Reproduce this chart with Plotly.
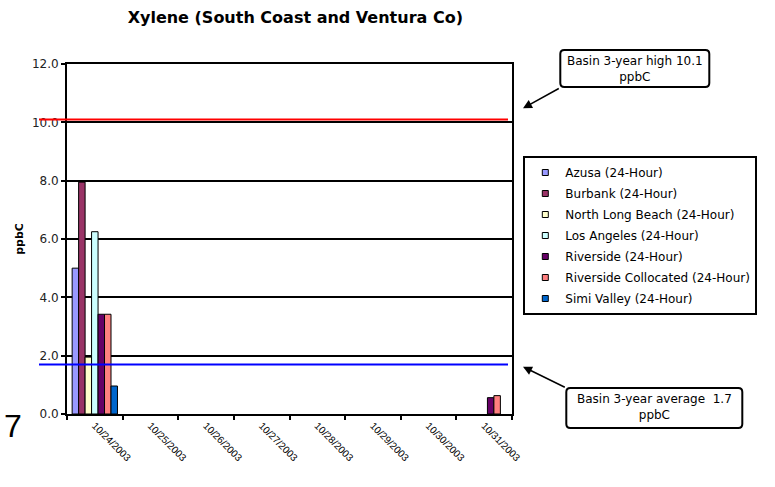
import plotly.graph_objects as go

# Sampling dates (category axis)
dates = ["10/24/2003", "10/25/2003", "10/26/2003", "10/27/2003",
         "10/28/2003", "10/29/2003", "10/30/2003", "10/31/2003"]

# Site names and colours
sites = ["Azusa (24-Hour)", "Burbank (24-Hour)", "North Long Beach (24-Hour)",
         "Los Angeles (24-Hour)", "Riverside (24-Hour)",
         "Riverside Collocated (24-Hour)", "Simi Valley (24-Hour)"]
colors = ["#9999FF", "#993366", "#FFFFCC", "#CCFFFF", "#660066", "#FF8080", "#0066CC"]

# Xylene concentrations, ppbC (None = no sample)
azusa = [5.0, None, None, None, None, None, None, None]
burbank = [7.95, None, None, None, None, None, None, None]
north_long_beach = [1.95, None, None, None, None, None, None, None]
los_angeles = [6.25, None, None, None, None, None, None, None]
riverside = [3.42, None, None, None, None, None, None, 0.56]
riverside_colloc = [3.42, None, None, None, None, None, None, 0.63]
simi_valley = [0.96, None, None, None, None, None, None, None]
series = [azusa, burbank, north_long_beach, los_angeles,
          riverside, riverside_colloc, simi_valley]

# Reference levels
basin_high = 10.1
basin_avg = 1.7

# Figure geometry (pixels)
FW, FH = 775, 487
L, R, T, B = 66.7, 511.7, 64.0, 414.0
PW, PH = R - L, B - T


def px(xp):
    return (xp - L) / PW


def py(yp):
    return (B - yp) / PH


def rounded_box(x0, y0, x1, y1, r=4):
    pts = [
        ("M", [(x0 + r, y0)]),
        ("L", [(x1 - r, y0)]),
        ("Q", [(x1, y0), (x1, y0 + r)]),
        ("L", [(x1, y1 - r)]),
        ("Q", [(x1, y1), (x1 - r, y1)]),
        ("L", [(x0 + r, y1)]),
        ("Q", [(x0, y1), (x0, y1 - r)]),
        ("L", [(x0, y0 + r)]),
        ("Q", [(x0, y0), (x0 + r, y0)]),
    ]
    s = ""
    for cmd, coords in pts:
        s += cmd + " ".join(f"{px(a):.5f},{py(b):.5f}" for a, b in coords) + " "
    return s + "Z"


FONT = "DejaVu Sans, Verdana, sans-serif"

fig = go.Figure()

for name, vals, col in zip(sites, series, colors):
    fig.add_trace(go.Bar(
        x=dates, y=vals, name=name, showlegend=False,
        marker=dict(color=col, line=dict(color="black", width=1)),
    ))

# Legend entries with small square keys
for i, (name, col) in enumerate(zip(sites, colors)):
    fig.add_trace(go.Scatter(
        x=[None], y=[None], mode="markers", name=name, legendgroup=f"g{i}",
        marker=dict(symbol="square", size=6, color=col,
                    line=dict(color="black", width=1)),
    ))

shapes = [
    dict(type="line", xref="paper", yref="y", x0=px(38.7), x1=px(507.7),
         y0=basin_high, y1=basin_high, line=dict(color="#FF0000", width=2)),
    dict(type="line", xref="paper", yref="y", x0=px(38.7), x1=px(507.7),
         y0=basin_avg, y1=basin_avg, line=dict(color="#0000FF", width=2)),
    dict(type="path", xref="paper", yref="paper",
         path=rounded_box(560, 50, 709, 87), line=dict(color="black", width=2),
         fillcolor="white"),
    dict(type="path", xref="paper", yref="paper",
         path=rounded_box(566, 388, 742, 428), line=dict(color="black", width=2),
         fillcolor="white"),
]

annotations = [
    dict(xref="paper", yref="paper", x=px(634.5), y=py(68.5),
         xanchor="center", yanchor="middle",
         text=f"Basin 3-year high {basin_high}<br>ppbC", showarrow=False,
         font=dict(family=FONT, size=12, color="black"), align="center"),
    dict(xref="paper", yref="paper", x=px(654), y=py(407),
         xanchor="center", yanchor="middle",
         text=f"Basin 3-year average  {basin_avg}<br>ppbC", showarrow=False,
         font=dict(family=FONT, size=12, color="black"), align="center"),
    dict(xref="paper", yref="paper", x=px(522.7), y=py(108.3), text="",
         showarrow=True, ax=37.3, ay=-20.6, arrowhead=2, arrowsize=1.2,
         arrowwidth=1.5, arrowcolor="black"),
    dict(xref="paper", yref="paper", x=px(522.7), y=py(366.7), text="",
         showarrow=True, ax=43.3, ay=21.3, arrowhead=2, arrowsize=1.2,
         arrowwidth=1.5, arrowcolor="black"),
    dict(xref="paper", yref="paper", x=px(2), y=py(426), xanchor="left",
         yanchor="middle", text="7", showarrow=False,
         font=dict(family="Liberation Sans, Arial", size=32, color="black")),
]

fig.update_layout(
    width=FW, height=FH,
    margin=dict(l=L, r=FW - R, t=T, b=FH - B, autoexpand=False),
    paper_bgcolor="white", plot_bgcolor="white",
    barmode="group", bargap=0.185, bargroupgap=0,
    title=dict(text="<b>Xylene (South Coast and Ventura Co)</b>",
               x=px(295), xref="paper", xanchor="center",
               y=1 - 17 / FH, yref="container", yanchor="middle",
               font=dict(family=FONT, size=16, color="black")),
    legend=dict(x=px(523), y=py(156), xanchor="left", yanchor="top",
                xref="paper", yref="paper",
                bordercolor="black", borderwidth=2, bgcolor="white",
                tracegroupgap=2, traceorder="grouped",
                font=dict(family=FONT, size=12, color="black")),
    shapes=shapes, annotations=annotations,
)

fig.update_xaxes(
    type="category", categoryorder="array", categoryarray=dates,
    tickson="boundaries", ticks="outside", ticklen=4, tickwidth=1.5,
    tickcolor="black", tickangle=45,
    tickfont=dict(family="Liberation Sans Narrow, Liberation Sans, Arial",
                  size=10, color="black"),
    showline=True, linecolor="black", linewidth=2, mirror=True,
    showgrid=False, zeroline=False,
)
fig.update_yaxes(
    range=[0, 12], dtick=2, tickformat=".1f",
    ticks="outside", ticklen=4, tickwidth=1.5, tickcolor="black",
    tickfont=dict(family=FONT, size=12, color="#222222"),
    showline=True, linecolor="black", linewidth=2, mirror=True,
    showgrid=True, gridcolor="black", gridwidth=2, zeroline=False,
    title=dict(text="<b>ppbC</b>", standoff=6,
               font=dict(family=FONT, size=11, color="black")),
)

fig.write_html("out.html")
